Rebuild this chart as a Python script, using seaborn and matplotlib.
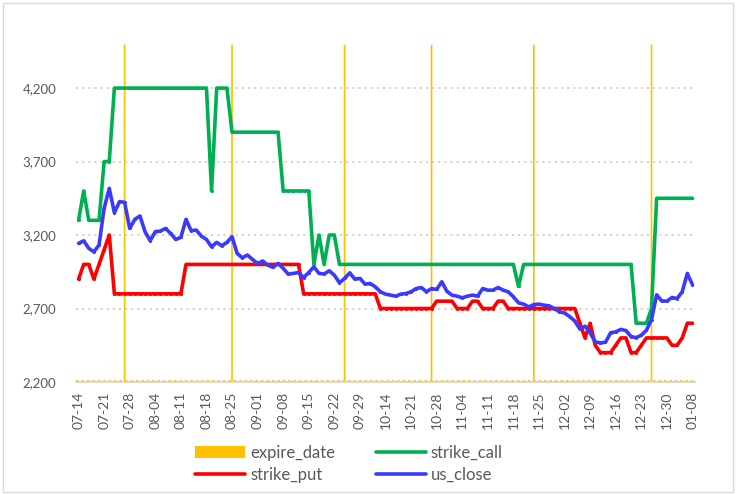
import numpy as np
import pandas as pd
import matplotlib
matplotlib.use("Agg")
import matplotlib.pyplot as plt
import seaborn as sns
from matplotlib.patches import Patch, Rectangle
from matplotlib.lines import Line2D

# ---------------- data ----------------
tick_labels = ["07-14", "07-21", "07-28", "08-04", "08-11", "08-18", "08-25",
               "09-01", "09-08", "09-15", "09-22", "09-29", "10-14", "10-21",
               "10-28", "11-04", "11-11", "11-18", "11-25", "12-02", "12-09",
               "12-16", "12-23", "12-30", "01-08"]

strike_call = [3300, 3500, 3300, 3300, 3300, 3700, 3700,
               4200, 4200, 4200, 4200, 4200, 4200, 4200, 4200, 4200, 4200,
               4200, 4200, 4200, 4200, 4200, 4200, 4200, 4200, 4200,
               3500, 4200, 4200, 4200,
               3900, 3900, 3900, 3900, 3900, 3900, 3900, 3900, 3900, 3900,
               3500, 3500, 3500, 3500, 3500, 3500,
               3000, 3200, 3000, 3200, 3200,
               3000, 3000, 3000, 3000, 3000, 3000, 3000, 3000, 3000, 3000,
               3000, 3000, 3000, 3000, 3000, 3000, 3000, 3000, 3000, 3000,
               3000, 3000, 3000, 3000, 3000, 3000, 3000, 3000, 3000, 3000,
               3000, 3000, 3000, 3000, 3000,
               2850,
               3000, 3000, 3000, 3000, 3000, 3000, 3000, 3000, 3000, 3000,
               3000, 3000, 3000, 3000, 3000, 3000, 3000, 3000, 3000, 3000,
               3000, 3000,
               2600, 2600, 2600, 2700,
               3450, 3450, 3450, 3450, 3450, 3450, 3450, 3450]

strike_put = [2900, 3000, 3000, 2900, 3000, 3100, 3200,
              2800, 2800, 2800, 2800, 2800, 2800, 2800, 2800, 2800, 2800,
              2800, 2800, 2800, 2800,
              3000, 3000, 3000, 3000, 3000, 3000, 3000, 3000, 3000, 3000,
              3000, 3000, 3000, 3000, 3000, 3000, 3000, 3000, 3000, 3000,
              3000, 3000, 3000,
              2800, 2800, 2800, 2800, 2800, 2800, 2800, 2800, 2800, 2800,
              2800, 2800, 2800, 2800, 2800,
              2700, 2700, 2700, 2700, 2700, 2700, 2700, 2700, 2700, 2700, 2700,
              2750, 2750, 2750, 2750,
              2700, 2700, 2700,
              2750, 2750,
              2700, 2700, 2700,
              2750, 2750,
              2700, 2700, 2700, 2700, 2700, 2700, 2700, 2700, 2700, 2700,
              2700, 2700, 2700, 2700,
              2600, 2500, 2600, 2450, 2400, 2400, 2400, 2450, 2500, 2500,
              2400, 2400, 2450, 2500, 2500, 2500, 2500, 2500, 2450, 2450,
              2500, 2600, 2600]

us_close = [3143, 3161, 3109, 3086, 3132, 3382, 3518, 3352, 3427, 3423,
            3245, 3307, 3330, 3223, 3161, 3223, 3227, 3245, 3211, 3170,
            3184, 3307, 3230, 3234, 3193, 3170, 3120, 3150, 3127, 3150,
            3189, 3075, 3045, 3064, 3034, 3007, 3023, 2995, 2980, 3007,
            2973, 2934, 2939, 2945, 2911, 2945, 2984, 2939, 2935, 2957,
            2927, 2875, 2905, 2943, 2900, 2905, 2866, 2870, 2848, 2814,
            2798, 2791, 2784, 2798, 2802, 2814, 2836, 2843, 2814, 2836,
            2830, 2882, 2817, 2791, 2784, 2773, 2784, 2791, 2784, 2836,
            2825, 2825, 2843, 2825, 2814, 2780, 2739, 2730, 2711, 2727,
            2730, 2723, 2718, 2700, 2677, 2670, 2645, 2615, 2560, 2580,
            2535, 2473, 2466, 2470, 2535, 2541, 2558, 2550, 2509, 2502,
            2518, 2552, 2625, 2793, 2752, 2750, 2775, 2768, 2814, 2939,
            2862]

expire_points = [9, 30, 52, 69, 89, 112]

n = len(us_close)
idx = np.arange(n)
expire_date = np.zeros(n)
expire_date[expire_points] = 1

colors = {"strike_call": "#00B050", "strike_put": "#FF0000", "us_close": "#3A3AFF"}
yellow = "#FFC000"
grey_txt = "#595959"

# ---------------- figure ----------------
sns.set_theme(style="white")
plt.rcParams["font.family"] = ["Lato", "DejaVu Sans"]

W, H = 754, 494
fig = plt.figure(figsize=(W / 100, H / 100), dpi=100)
L, R, T, B = 76, 695, 44, 382
axb = fig.add_axes([L / W, 1 - B / H, (R - L) / W, (B - T) / H])
axl = axb.twinx()

# expire bars (secondary scale 0..1)
df_exp = pd.DataFrame({"i": idx, "expire_date": expire_date})
sns.barplot(data=df_exp, x="i", y="expire_date", native_scale=True,
            color=yellow, saturation=1, width=0.6, ax=axb, errorbar=None)
for p in axb.patches:
    p.set_snap(False)
axb.set_ylim(0, 1)
axb.set_yticks([])
axb.set_ylabel("")
axb.set_xlabel("")
axb.axhline(0.004, color=yellow, lw=1.4, ls=(0, (1.2, 1.6)), zorder=1)

# lines
long = pd.DataFrame({
    "i": np.concatenate([idx, idx, idx]),
    "value": np.concatenate([strike_call, strike_put, us_close]),
    "series": ["strike_call"] * n + ["strike_put"] * n + ["us_close"] * n,
})
sns.lineplot(data=long, x="i", y="value", hue="series", palette=colors,
             linewidth=2.6, marker="o", markersize=2.2, markeredgewidth=0,
             legend=False, ax=axl, zorder=3)
axl.set_ylim(2200, 4500)
axl.set_yticks([2200, 2700, 3200, 3700, 4200])
axl.set_yticklabels(["2,200", "2,700", "3,200", "3,700", "4,200"])
axl.yaxis.tick_left()
axl.set_ylabel("")
axl.set_xlabel("")
axl.grid(axis="y", color="#D0D0D0", lw=1.3, ls=(0, (1.2, 2.2)))
axl.tick_params(axis="y", length=0, pad=14, labelsize=9.5, labelcolor=grey_txt)

axb.set_xlim(-0.5, n - 0.5)
axb.set_xticks(list(range(0, n, 5)))
axb.set_xticklabels(tick_labels, rotation=90)
axb.tick_params(axis="x", length=0, pad=7, labelsize=10, labelcolor=grey_txt)

for ax in (axb, axl):
    for s in ax.spines.values():
        s.set_visible(False)
axb.spines["bottom"].set_visible(True)
axb.spines["bottom"].set_color("#D9D9D9")
axb.spines["bottom"].set_linewidth(1.5)

# legend
handles = [
    Patch(facecolor=yellow, edgecolor="none", label="expire_date"),
    Line2D([], [], color=colors["strike_put"], lw=2.6, label="strike_put"),
    Line2D([], [], color=colors["strike_call"], lw=2.6, label="strike_call"),
    Line2D([], [], color=colors["us_close"], lw=2.6, label="us_close"),
]
fig.legend(handles=handles, ncol=2, loc="center",
           bbox_to_anchor=(349 / W, 1 - 464 / H), frameon=False,
           fontsize=12, handlelength=3.0, columnspacing=2.4,
           handletextpad=0.3, labelspacing=0.35, labelcolor=grey_txt)

# chart border
fig.patches.append(Rectangle((3 / W, 2 / H), (733 - 3) / W, (491 - 2) / H,
                             transform=fig.transFigure, fill=False,
                             edgecolor="#D9D9D9", lw=1))

fig.savefig("out.png", dpi=100)
